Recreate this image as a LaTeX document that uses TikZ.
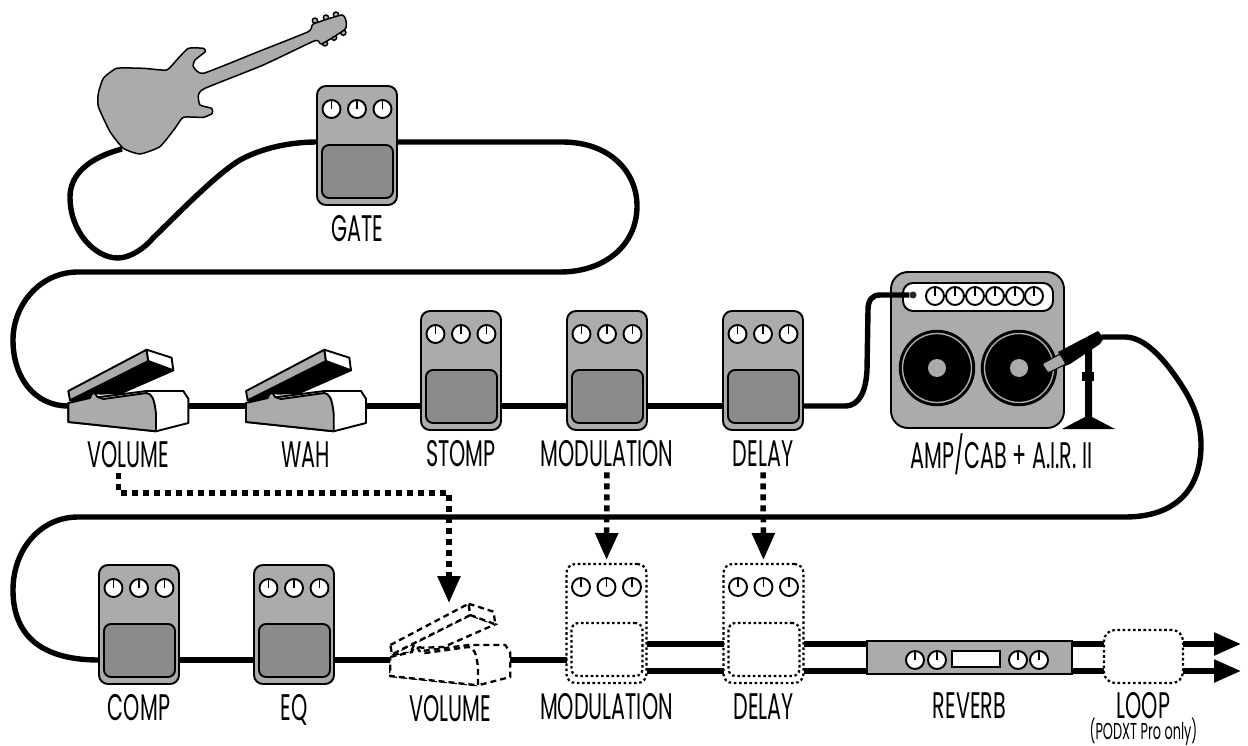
\documentclass[tikz,border=0pt]{standalone}
\usepackage{fontspec}
\setmainfont[FakeStretch=0.56]{Poppins}
\usetikzlibrary{arrows.meta,calc,shapes.misc}

\definecolor{bodygray}{HTML}{ABABAB}
\definecolor{padgray}{HTML}{8B8B89}

\tikzset{
	cable/.style={line width=5.4pt,line join=round},
	link/.style={line width=5.5pt,dash pattern=on 6pt off 5pt,-{Triangle[length=27pt,width=22pt]}},
	stompbody/.style={draw,rectangle,rounded corners=9pt,line width=1.9pt,fill=bodygray,minimum width=80pt,minimum height=119pt,inner sep=0pt,outer sep=0pt},
	stomppad/.style={draw,rectangle,rounded corners=7pt,line width=1.9pt,fill=padgray,minimum width=71pt,minimum height=53pt,inner sep=0pt,outer sep=0pt},
	dottedbox/.style={fill=white,line width=2.2pt,dash pattern=on 2.6pt off 2.6pt},
	knob/.style={draw,circle,fill=white,line width=1.9pt,minimum size=18pt,inner sep=0pt},
	treadlebox/.style={rectangle,minimum width=120pt,minimum height=50pt,inner sep=0pt,outer sep=0pt},
	treadlewhite/.style={draw,fill=white,line width=1.9pt,line join=round},
	treadlegray/.style={draw,fill=bodygray,line width=1.9pt,line join=round},
	treadleblack/.style={draw,fill=black,line width=1.9pt,line join=round},
	treadledash/.style={draw,fill=white,line width=2.3pt,dash pattern=on 6pt off 4pt},
	caption/.style={below,yshift=-10pt,inner sep=0pt,text height=26pt,text depth=0pt,font=\fontsize{37}{37}\selectfont},
}

% knob with its pointer
\newcommand{\knob}[2]{
	\node[knob] (#1) at (#2) {};
	\draw[line width=1.9pt] (#1.north) -- (#1.center);
}

% name, x, y
\newcommand{\stompbox}[4][]{
	\node[stompbody,#1] (#2) at (#3,#4) {};
	\node[stomppad,#1]  (#2pad) at ($(#2)+(0.5,26)$) {};
	\foreach \k/\dx in {a/-25.5,b/0,c/25.5}
		\knob{#2\k}{$(#2)+(\dx,-36.5)$};
}

% name, x, y
\newcommand{\treadle}[3]{
	\node[treadlebox] (#1) at (#2,#3) {};
	\begin{scope}[shift={(#1.center)}]
		\path[treadlewhite] (-60,-3) -- (-60,16) -- (27.7,25.3) -- (60,17) -- (60,-7.3) -- (55,-15) -- (18.3,-15) -- (-28.3,-9) -- cycle;
		\path[treadleblack] (-58.3,-5.7) -- (20,-45) -- (45,-35.7) -- (-6.7,-13) -- (-28.3,-12.3) -- (-36.7,-14) -- (-40,-7.3) -- cycle;
		\path[treadlegray]  (-60,-15) -- (18.3,-56.3) -- (20,-45) -- (-58.3,-5.7) -- cycle;
		\path[treadlewhite] (18.3,-56.3) -- (43.3,-48.3) -- (45,-35.7) -- (20,-45) -- cycle;
		\path[treadlegray]  (-60,-3) -- (-38.3,-8) .. controls (-37,-14) and (-33,-15) .. (-31,-9) -- (-25,-7) -- (18.3,-13) .. controls (23,-12) and (26,-9) .. (27.7,8) -- (27.7,25.3) -- (-60,16) -- cycle;
	\end{scope}
}

% name, x, y
\newcommand{\speaker}[3]{
	\node[draw,circle,fill=black,line width=1.4pt,minimum size=75pt,inner sep=0pt] (#1) at (#2,#3) {};
	\node[draw=bodygray,circle,fill=black,line width=1.4pt,minimum size=69pt,inner sep=0pt] (#1cone) at (#2,#3) {};
	\node[circle,fill=bodygray,minimum size=18pt,inner sep=0pt] (#1cap) at (#2,#3) {};
}

\begin{document}
\begin{tikzpicture}[x=1pt,y=-1pt]

	\path[use as bounding box] (0,0) rectangle (1248,746);

	\coordinate (rowone)   at (0,142);
	\coordinate (rowtwo)   at (0,406);
	\coordinate (rowthree) at (0,660);
	\coordinate (busa)     at (0,644);
	\coordinate (busb)     at (0,671);

	% guitar
	\begin{scope}[shift={(60,0)},x=0.3333pt,y=-0.3333pt]
		\foreach \x/\y in {765/62,798/53,828/44,795/130,822/113,850/98}
			\draw[fill=bodygray,line width=1.4pt] (\x,\y) circle (8);
		\draw[fill=bodygray,line width=1.5pt] plot[smooth cycle,tension=0.3] coordinates {(430,220) (590,157) (745,95) (760,72) (845,45) (858,62) (855,88) (785,132) (765,122) (610,195) (435,265) (415,285) (420,315) (455,325) (457,340) (430,352) (370,352) (345,385) (300,440) (240,462) (190,445) (150,395) (115,320) (115,280) (130,235) (170,205) (250,205) (320,210) (350,180) (385,145) (430,145) (436,155) (405,180) (400,200)};
	\end{scope}
	\coordinate (guitarjack) at (122,149);

	% first row
	\stompbox{gate}{357}{145.5}
	\treadle{volume}{128.3}{406}
	\treadle{wah}{306}{406}
	\stompbox{stomp}{461}{370.5}
	\stompbox{modulation}{607}{370.5}
	\stompbox{delay}{763}{370.5}

	% amp
	\node[draw,rectangle,rounded corners=17pt,line width=1.9pt,fill=bodygray,minimum width=173pt,minimum height=156pt,inner sep=0pt] (amp) at (977.5,350) {};
	\node[draw,rectangle,rounded corners=10pt,line width=1.9pt,fill=white,minimum width=150pt,minimum height=28pt,inner sep=0pt] (panel) at (978,297) {};
	\foreach \k/\x in {a/935,b/955,c/975,d/995,e/1015,f/1034}
		\knob{amp\k}{\x,296};
	\node[circle,fill=black!85,minimum size=7pt,inner sep=0pt] (ampjack) at (913,295) {};
	\speaker{left}{937}{368}
	\speaker{right}{1019}{368}

	% mic and stand
	\fill (1062,429) -- (1085,417) -- (1085,347) -- (1092,347) -- (1092,417) -- (1115,429) -- cycle;
	\fill (1082,372) rectangle (1094,381);
	\fill (1058,352) -- (1098,331) -- (1104,338) -- (1100,344) -- (1070,364) -- (1065,366) -- cycle;
	\draw[fill=bodygray,line width=1pt,rounded corners=1.5pt] (1042,364) -- (1060,354) -- (1066,364) -- (1048,373) -- cycle;
	\coordinate (mic) at (1102,337);

	% second row
	\stompbox{comp}{139}{624.5}
	\stompbox{eq}{294}{624.5}
	\begin{scope}[treadlewhite/.style={treadledash},treadlegray/.style={treadledash},treadleblack/.style={treadledash}]
		\treadle{volumeb}{450.3}{660}
	\end{scope}
	\stompbox[dottedbox]{modulationb}{606.5}{623.5}
	\stompbox[dottedbox]{delayb}{763.5}{623.5}

	\node[draw,rectangle,line width=1.9pt,fill=bodygray,minimum width=205pt,minimum height=33pt,inner sep=0pt,outer sep=0pt] (reverb) at (969.5,657.5) {};
	\foreach \k/\x in {a/915,b/937,c/1018,d/1039}
		\knob{reverb\k}{\x,660};
	\node[draw,rectangle,line width=1.9pt,fill=white,minimum width=48pt,minimum height=16pt,inner sep=0pt] (display) at (976,659) {};
	\node[stompbody,dottedbox,minimum width=79pt,minimum height=53pt,rounded corners=11pt] (loop) at (1143.5,656.5) {};
	\coordinate (outa) at (1241,644);
	\coordinate (outb) at (1241,671);

	% captions
	\node[caption] (gatetext)        at (gate.south)        {GATE};
	\node[caption] (volumetext)      at (volume.south)      {VOLUME};
	\node[caption] (wahtext)         at (wah.south)         {WAH};
	\node[caption] (stomptext)       at (stomp.south)       {STOMP};
	\node[caption] (modulationtext)  at (modulation.south)  {MODULATION};
	\node[caption] (delaytext)       at (delay.south)       {DELAY};
	\node[caption,yshift=-3pt,xshift=24pt] (amptext) at (amp.south) {AMP/CAB + A.I.R. II};
	\node[caption] (comptext)        at (comp.south)        {COMP};
	\node[caption] (eqtext)          at (eq.south)          {EQ};
	\node[caption] (volumebtext)     at (volumeb.south)     {VOLUME};
	\node[caption] (modulationbtext) at (modulationb.south) {MODULATION};
	\node[caption] (delaybtext)      at (delayb.south)      {DELAY};
	\node[caption,yshift=-8pt] (reverbtext) at (reverb.south) {REVERB};
	\node[caption,yshift=1pt] (looptext) at (loop.south)    {LOOP};
	\node[below,inner sep=0pt,yshift=-6pt,text height=15pt,text depth=4pt,font=\fontsize{23}{23}\selectfont] (looptextb) at (looptext.south) {(PODXT Pro only)};

	% cables
	\draw[cable] (guitarjack) .. controls (88,158) and (70,175) .. (70,197) .. controls (70,232) and (95,258) .. (118,258) .. controls (130,258) and (145,248) .. (153,238) .. controls (175,217) and (215,175) .. (240,160) .. controls (262,148) and (290,142) .. (gate.west |- rowone);
	\draw[cable] (gate.east |- rowone) -- (562,142) .. controls (610,142) and (637,172) .. (637,206) .. controls (637,245) and (605,272) .. (560,272) -- (78,272) .. controls (40,272) and (13,305) .. (13,340) .. controls (13,378) and (35,406) .. (volume.west);
	\draw[cable] (volume.east) -- (wah.west);
	\draw[cable] (wah.east) -- (stomp.west |- rowtwo);
	\draw[cable] (stomp.east |- rowtwo) -- (modulation.west |- rowtwo);
	\draw[cable] (modulation.east |- rowtwo) -- (delay.west |- rowtwo);
	\draw[cable] (delay.east |- rowtwo) -- (845,406) .. controls (860,406) and (866,390) .. (867,370) -- (868,310) .. controls (868,300) and (872,295) .. (880,295) -- (ampjack);
	\draw[cable] (mic) -- (1125,337) .. controls (1145,337) and (1165,360) .. (1180,383) .. controls (1195,405) and (1201,425) .. (1201,445) .. controls (1201,490) and (1175,517) .. (1125,517) -- (78,517) .. controls (40,517) and (13,550) .. (13,590) .. controls (13,630) and (35,660) .. (comp.west |- rowthree);
	\draw[cable] (comp.east |- rowthree) -- (eq.west |- rowthree);
	\draw[cable] (eq.east |- rowthree) -- (volumeb.west);
	\draw[cable] (volumeb.east) -- (modulationb.west |- rowthree);
	\draw[cable] (modulationb.east |- busa) -- (delayb.west |- busa);
	\draw[cable] (modulationb.east |- busb) -- (delayb.west |- busb);
	\draw[cable] (delayb.east |- busa) -- (reverb.west |- busa);
	\draw[cable] (delayb.east |- busb) -- (reverb.west |- busb);
	\draw[cable] (reverb.east |- busa) -- (loop.west |- busa);
	\draw[cable] (reverb.east |- busb) -- (loop.west |- busb);
	\draw[cable,-{Triangle[length=27pt,width=22pt]}] (loop.east |- busa) -- (outa);
	\draw[cable,-{Triangle[length=27pt,width=22pt]}] (loop.east |- busb) -- (outb);

	% links between the two rows
	\coordinate (volumedrop) at (449,493);
	\coordinate (volumetip)  at (449,603);
	\draw[link] ($(volumetext.south)+(-10,6)$) |- (volumedrop) -- (volumetip);
	\draw[link,shorten <=6pt,shorten >=4pt] (modulationtext.south) -- (modulationb.north);
	\draw[link,shorten <=6pt,shorten >=4pt] (delaytext.south) -- (delayb.north);

\end{tikzpicture}
\end{document}
